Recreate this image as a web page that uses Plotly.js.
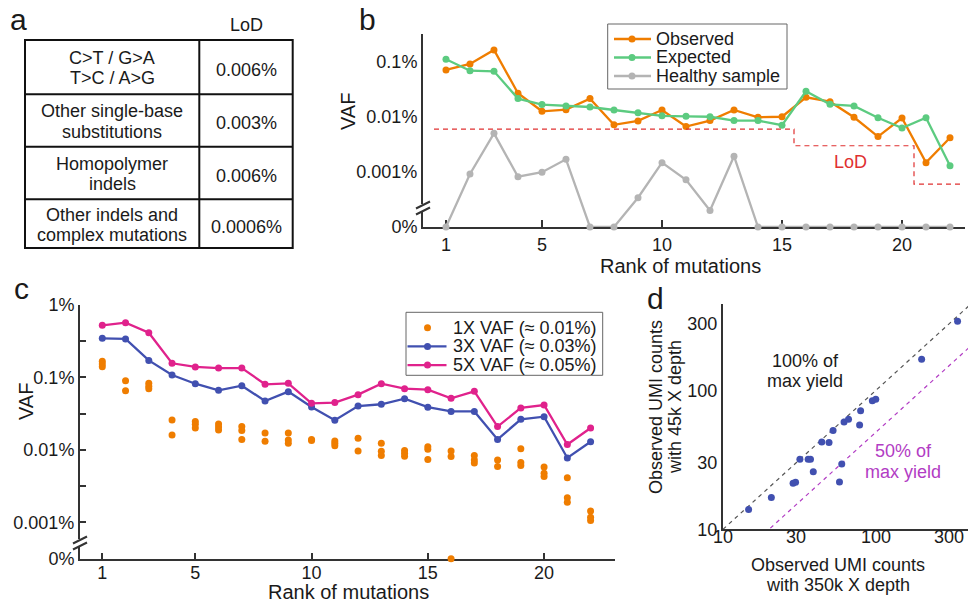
<!DOCTYPE html>
<html>
<head>
<meta charset="utf-8">
<script src="https://cdn.plot.ly/plotly-3.0.1.min.js"></script>
<style>html,body{margin:0;padding:0;background:#fff;}#chart{width:968px;height:604px;}</style>
</head>
<body>
<div id="chart"></div>
<script>
// ---------------- DATA ----------------
// Panel a: LoD table
const mutationTypes = [
  ['C>T / G>A', 'T>C / A>G'],
  ['Other single-base', 'substitutions'],
  ['Homopolymer', 'indels'],
  ['Other indels and', 'complex mutations']
];
const lodValues = ['0.006%', '0.003%', '0.006%', '0.0006%'];

// Panel b: VAF (%) by rank
const ranks = [1,2,3,4,5,6,7,8,9,10,11,12,13,14,15,16,17,18,19,20,21,22];
const observedVaf = [0.0716, 0.092, 0.166, 0.027, 0.0127, 0.0136, 0.0216, 0.0072, 0.0085, 0.0134, 0.0067,
                     0.0086, 0.0134, 0.0099, 0.0101, 0.0228, 0.019, 0.0099, 0.0044, 0.0096, 0.00148, 0.0042];
const expectedVaf = [0.112, 0.0695, 0.0676, 0.0216, 0.0168, 0.0159, 0.0152, 0.0134, 0.012, 0.0105, 0.0103,
                     0.0101, 0.0086, 0.0086, 0.0071, 0.0293, 0.017, 0.0159, 0.0097, 0.0063, 0.0097, 0.0013];
const healthyVaf  = [0, 0.00092, 0.00505, 0.00082, 0.00099, 0.0017, 0, 0, 0.00034, 0.00148, 0.00072,
                     0.0002, 0.00194, 0, 0, 0, 0, 0, 0, 0, 0, 0];
const lodRankEdges = [0.5, 15.5, 20.5, 22.5];
const lodLevels    = [0.006, 0.003, 0.0006, 0.0006];
const bTickVals = [0, 0.001, 0.01, 0.1];
const bTickText = ['0%', '0.001%', '0.01%', '0.1%'];
const rankTicks = [1, 5, 10, 15, 20];

// Panel c: spike-in VAF (%) by rank
const vaf5x = [0.524, 0.57, 0.415, 0.157, 0.14, 0.135, 0.135, 0.0805, 0.083, 0.044, 0.045,
               0.058, 0.082, 0.070, 0.068, 0.0516, 0.0645, 0.021, 0.038, 0.0417, 0.0119, 0.0201];
const vaf3x = [0.347, 0.34, 0.172, 0.108, 0.082, 0.0665, 0.077, 0.0474, 0.0638, 0.0392, 0.0257,
               0.0404, 0.0427, 0.051, 0.039, 0.034, 0.034, 0.014, 0.0265, 0.0288, 0.00776, 0.013];
const vaf1x = [
  [0.167, 0.153, 0.141], [0.0904, 0.0658], [0.083, 0.076, 0.070], [0.026, 0.0161],
  [0.0248, 0.0226, 0.0201], [0.0228, 0.0207, 0.0189], [0.021, 0.0185, 0.014], [0.0171, 0.0132],
  [0.0171, 0.0137, 0.0124], [0.014, 0.0135], [0.0133, 0.0124, 0.0114], [0.0145, 0.0097],
  [0.0124, 0.0096, 0.0084], [0.0098, 0.009, 0.0082], [0.0111, 0.0102, 0.0074], [0.0097, 0.0081, 0],
  [0.0084, 0.0073, 0.0066], [0.0073, 0.0059], [0.0104, 0.0067, 0.0061], [0.0058, 0.00477, 0.0043],
  [0.00415, 0.0022, 0.0019], [0.00144, 0.00118, 0.00106]
];
const cTickVals = [0, 0.001, 0.01, 0.1, 1];
const cTickText = ['0%', '0.001%', '0.01%', '0.1%', '1%'];

// Panel d: UMI counts
const umi350k = [14.7, 20.7, 28.7, 29.8, 31.8, 36, 37.3, 38.9, 44.2, 49.3, 52.4, 57.7, 59.7, 61.8, 66.1,
                 78.1, 79.3, 94.6, 99.6, 198.6, 341];
const umi45k  = [13.9, 16.9, 21.4, 21.8, 31.9, 31.9, 31.9, 25.9, 42.5, 42, 51.3, 21.9, 29.5, 59.2, 61.8,
                 56.2, 71.3, 84.1, 86.1, 167, 313];
const yieldFractions = [1, 0.5];
const dTicks = [10, 30, 100, 300];

// ---------------- STYLE ----------------
const W = 968, H = 604;
const px = x => x / W;
const py = y => 1 - y / H;
const FONT = 'Arial, "Liberation Sans", Helvetica, sans-serif';
const TXT = '#1a1a1a';
const AX = '#333333';
const ORANGE = '#EF7D00', GREEN = '#5CCB80', GRAY = '#B4B4B4', RED = '#E03030';
const BLUE = '#4150B0', MAGENTA = '#E0228C', PURPLE = '#B23CC4';

const ZERO_B = 1e-4;               // where "0%" sits on panel b
const ZERO_C = Math.pow(10, -3.5); // where "0%" sits on panel c
const mapB = v => v > 0 ? v : ZERO_B;
const mapC = v => v > 0 ? v : ZERO_C;

// ---------------- TRACES ----------------
const traces = [];
traces.push({x: ranks, y: healthyVaf.map(mapB), mode: 'lines+markers', xaxis: 'x', yaxis: 'y',
  line: {color: GRAY, width: 2.3}, marker: {color: GRAY, size: 7}, cliponaxis: false, name: 'Healthy sample'});
traces.push({x: ranks, y: observedVaf, mode: 'lines+markers', xaxis: 'x', yaxis: 'y',
  line: {color: ORANGE, width: 2.3}, marker: {color: ORANGE, size: 7}, cliponaxis: false, name: 'Observed'});
traces.push({x: ranks, y: expectedVaf, mode: 'lines+markers', xaxis: 'x', yaxis: 'y',
  line: {color: GREEN, width: 2.3}, marker: {color: GREEN, size: 7}, cliponaxis: false, name: 'Expected'});
traces.push({x: lodRankEdges, y: lodLevels, mode: 'lines', xaxis: 'x', yaxis: 'y',
  line: {color: RED, width: 1.2, dash: '5px,4px', shape: 'hv'}, name: 'LoD'});

// panel c
const x1 = [], y1 = [];
vaf1x.forEach((reps, i) => reps.forEach(v => { x1.push(ranks[i]); y1.push(mapC(v)); }));
traces.push({x: x1, y: y1, mode: 'markers', xaxis: 'x2', yaxis: 'y2',
  marker: {color: ORANGE, size: 7}, cliponaxis: false, name: '1X VAF (≈ 0.01%)'});
traces.push({x: ranks, y: vaf3x, mode: 'lines+markers', xaxis: 'x2', yaxis: 'y2',
  line: {color: BLUE, width: 2.3}, marker: {color: BLUE, size: 7}, cliponaxis: false, name: '3X VAF (≈ 0.03%)'});
traces.push({x: ranks, y: vaf5x, mode: 'lines+markers', xaxis: 'x2', yaxis: 'y2',
  line: {color: MAGENTA, width: 2.3}, marker: {color: MAGENTA, size: 7}, cliponaxis: false, name: '5X VAF (≈ 0.05%)'});

// panel d
const dXmin = 10, dXmax = 1000;
yieldFractions.forEach((f, i) => {
  traces.push({x: [dXmin, dXmax], y: [dXmin * f, dXmax * f], mode: 'lines', xaxis: 'x3', yaxis: 'y3',
    line: {color: i === 0 ? '#555555' : PURPLE, width: 1.2, dash: '4px,4px'}, hoverinfo: 'skip'});
});
traces.push({x: umi350k, y: umi45k, mode: 'markers', xaxis: 'x3', yaxis: 'y3',
  marker: {color: BLUE, size: 7}, cliponaxis: false, name: 'UMI'});

// ---------------- SHAPES & ANNOTATIONS ----------------
const shapes = [];
const annotations = [];
function ann(text, x, y, o) {
  o = o || {};
  annotations.push(Object.assign({text: text, x: px(x), y: py(y), xref: 'paper', yref: 'paper',
    showarrow: false, xanchor: 'center', yanchor: 'middle',
    font: {family: FONT, size: o.size || 18, color: o.color || TXT}}, o.extra || {}));
}
function line(x0, y0, x1, y1, color, width) {
  shapes.push({type: 'line', xref: 'paper', yref: 'paper', x0: px(x0), y0: py(y0), x1: px(x1), y1: py(y1),
    line: {color: color, width: width}, layer: 'above'});
}
function dot(x, y, color, r) {
  shapes.push({type: 'circle', xref: 'paper', yref: 'paper', xsizemode: 'pixel', ysizemode: 'pixel',
    xanchor: px(x), yanchor: py(y), x0: -r, x1: r, y0: -r, y1: r,
    fillcolor: color, line: {width: 0}, layer: 'above'});
}
function rect(x0, y0, x1, y1, lineColor, width, fill) {
  shapes.push({type: 'rect', xref: 'paper', yref: 'paper', x0: px(x0), y0: py(y0), x1: px(x1), y1: py(y1),
    line: {color: lineColor, width: width}, fillcolor: fill || 'rgba(0,0,0,0)', layer: 'above'});
}

// panel letters
ann('a', 18, 20, {size: 30});
ann('b', 367, 20, {size: 30});
ann('c', 21, 289, {size: 30});
ann('d', 655, 299, {size: 30});

// table (panel a)
const tL = 25, tR = 292.7, tMid = 199.3, rowEdges = [40, 94.3, 146.7, 199.3, 248];
rect(tL, rowEdges[0], tR, rowEdges[4], '#111', 2);
line(tMid, rowEdges[0], tMid, rowEdges[4], '#111', 2);
for (let i = 1; i < 4; i++) line(tL, rowEdges[i], tR, rowEdges[i], '#111', 2);
ann('LoD', (tMid + tR) / 2, 25, {size: 18});
mutationTypes.forEach((lines, i) => {
  const c = (rowEdges[i] + rowEdges[i + 1]) / 2 + 1;
  ann(lines[0], (tL + tMid) / 2, c - 10, {size: 18});
  ann(lines[1], (tL + tMid) / 2, c + 10, {size: 18});
  ann(lodValues[i], (tMid + tR) / 2, c + 2, {size: 18});
});

// axis titles
ann('VAF', 348, 112, {size: 20, extra: {textangle: -90}});
ann('Rank of mutations', 680, 266, {size: 20});
ann('VAF', 26, 402, {size: 20, extra: {textangle: -90}});
ann('Rank of mutations', 348, 592, {size: 20});
ann('Observed UMI counts', 838, 565, {size: 18});
ann('with 350k X depth', 838, 585, {size: 18});
ann('Observed UMI counts', 656, 407, {size: 18, extra: {textangle: -90}});
ann('with 45k X depth', 675, 407, {size: 18, extra: {textangle: -90}});

// in-plot labels
ann('LoD', 850, 162, {size: 18, color: RED});
ann('100% of', 805, 361, {size: 18});
ann('max yield', 805, 381, {size: 18});
ann('50% of', 903, 451, {size: 18, color: PURPLE});
ann('max yield', 903, 472, {size: 18, color: PURPLE});

// custom legend panel b
const legB = [{name: 'Observed', color: ORANGE}, {name: 'Expected', color: GREEN}, {name: 'Healthy sample', color: GRAY}];
rect(607.7, 24, 787, 89, '#666', 1, 'white');
legB.forEach((e, i) => {
  const y = 39 + i * 18.5;
  line(614, y, 651, y, e.color, 2.3);
  dot(632, y, e.color, 3.5);
  ann(e.name, 654, y, {size: 18, extra: {xanchor: 'left'}});
});
// custom legend panel c
const legC = [{name: '1X VAF (≈ 0.01%)', color: ORANGE, line: false},
              {name: '3X VAF (≈ 0.03%)', color: BLUE, line: true},
              {name: '5X VAF (≈ 0.05%)', color: MAGENTA, line: true}];
rect(406, 312.3, 602.7, 375.3, '#666', 1, 'white');
legC.forEach((e, i) => {
  const y = 327.7 + i * 18.7;
  if (e.line) line(407.5, y, 446.5, y, e.color, 2.3);
  dot(427.5, y, e.color, 3.5);
  ann(e.name, 451, y, {size: 18, extra: {xanchor: 'left'}});
});

// axis breaks
function axisBreak(ax, cy) {
  rect(ax - 3, cy - 4, ax + 3, cy + 4, 'white', 0, 'white');
  line(ax - 7, cy - 3 + 3.5, ax + 7, cy - 3 - 3.5, AX, 2);
  line(ax - 7, cy + 3 + 3.5, ax + 7, cy + 3 - 3.5, AX, 2);
}
axisBreak(423, 208);
axisBreak(80, 543);

// ---------------- AXES ----------------
const tickFont = {family: FONT, size: 18, color: TXT};
const baseAx = {showline: true, linecolor: AX, linewidth: 2, showgrid: false, zeroline: false,
  tickfont: tickFont, tickcolor: AX, tickwidth: 2, layer: 'below traces', fixedrange: true};

const layout = {
  width: W, height: H, margin: {l: 0, r: 0, t: 0, b: 0}, showlegend: false,
  paper_bgcolor: 'white', plot_bgcolor: 'rgba(0,0,0,0)', font: {family: FONT, color: TXT},
  xaxis: Object.assign({}, baseAx, {domain: [px(423), px(965)], range: [0.042, 22.625], anchor: 'y',
    tickmode: 'array', tickvals: rankTicks, ticks: 'inside', ticklen: 7}),
  yaxis: Object.assign({}, baseAx, {domain: [py(227), py(34)], type: 'log', range: [-4, -0.491], anchor: 'x',
    tickmode: 'array', tickvals: bTickVals.map(mapB), ticktext: bTickText, ticks: ''}),
  xaxis2: Object.assign({}, baseAx, {domain: [px(80), px(615)], range: [0.041, 23.05], anchor: 'y2',
    tickmode: 'array', tickvals: rankTicks, ticks: 'inside', ticklen: 6, ticklabelstandoff: -3}),
  yaxis2: Object.assign({}, baseAx, {domain: [py(558.7), py(305)], type: 'log', range: [-3.5, 0], anchor: 'x2',
    tickmode: 'array', tickvals: cTickVals.map(mapC), ticktext: cTickText, ticks: 'inside', ticklen: 6,
    minor: {tickmode: 'array', tickvals: [Math.pow(10, -2.5), Math.pow(10, -1.5), Math.pow(10, -0.5)],
            ticks: 'inside', ticklen: 6, tickwidth: 2, tickcolor: AX, showgrid: false}}),
  xaxis3: Object.assign({}, baseAx, {domain: [px(723), 1], type: 'log', range: [1, 2.601], anchor: 'y3',
    tickmode: 'array', tickvals: dTicks, ticktext: dTicks.map(String), ticks: '', ticklabelstandoff: -10}),
  yaxis3: Object.assign({}, baseAx, {domain: [py(529.3), py(304)], type: 'log', range: [1, 2.62], anchor: 'x3',
    tickmode: 'array', tickvals: dTicks, ticktext: dTicks.map(String), ticks: ''}),
  shapes: shapes, annotations: annotations
};

Plotly.newPlot('chart', traces, layout, {staticPlot: true, displayModeBar: false});
</script>
</body>
</html>
